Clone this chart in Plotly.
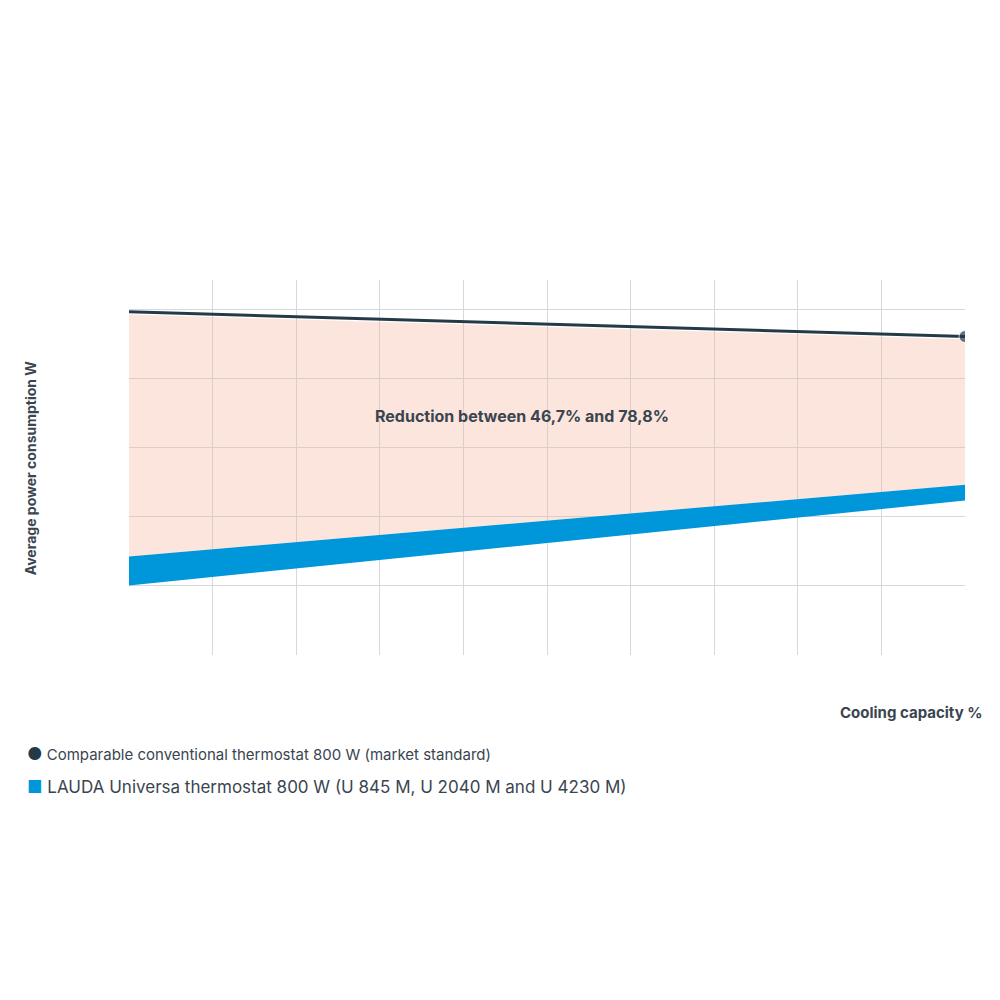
import plotly.graph_objects as go

cooling = [0, 100]
conventional = [4.97, 4.61]
lauda_upper = [1.42, 2.46]
lauda_lower = [1.0, 2.23]
label = "Reduction between 46,7% and 78,8%"
legend_labels = ["Comparable conventional thermostat 800 W (market standard)",
                 "LAUDA Universa thermostat 800 W (U 845 M, U 2040 M and U 4230 M)"]

dark = "#243b47"
blue = "#0096da"
pink = "rgba(247,180,155,0.35)"
txt = "#3a4550"

fig = go.Figure()
fig.add_trace(go.Scatter(x=cooling, y=lauda_upper, mode="lines", line=dict(width=0, color=pink),
                         showlegend=False, hoverinfo="skip"))
fig.add_trace(go.Scatter(x=cooling, y=[c - 0.04 for c in conventional], mode="lines", fill="tonexty",
                         fillcolor=pink, line=dict(width=0), showlegend=False, hoverinfo="skip"))
fig.add_trace(go.Scatter(x=cooling, y=lauda_lower, mode="lines", line=dict(width=0, color=blue),
                         showlegend=False, hoverinfo="skip"))
fig.add_trace(go.Scatter(x=cooling, y=lauda_upper, mode="lines", fill="tonexty", fillcolor=blue,
                         line=dict(width=0, color=blue), showlegend=False))
fig.add_trace(go.Scatter(x=cooling, y=conventional, mode="lines+markers",
                         line=dict(color=dark, width=3),
                         marker=dict(size=[0, 12], color=dark, symbol="circle"), showlegend=False))

fig.add_annotation(x=47, y=3.45, text="<b>" + label + "</b>", showarrow=False,
                   font=dict(size=16, color=txt, family="Inter"))
fig.add_annotation(xref="paper", yref="paper", x=-0.13, y=0.5, text="<b>Average power consumption W</b>",
                   textangle=-90, showarrow=False, font=dict(size=14, color=txt, family="Inter"))
fig.add_annotation(xref="paper", yref="paper", x=1.024, y=-0.185, xanchor="right",
                   text="<b>Cooling capacity %</b>", showarrow=False,
                   font=dict(size=15, color=txt, family="Inter"))
# legend
fig.add_annotation(xref="paper", yref="paper", x=-0.125, y=-0.264, xanchor="left", yanchor="middle",
                   text="<span style='color:%s;font-size:17px'>●</span> %s" % (dark, legend_labels[0]),
                   showarrow=False, font=dict(size=15, color=txt, family="Inter"))
fig.add_annotation(xref="paper", yref="paper", x=-0.125, y=-0.352, xanchor="left", yanchor="middle",
                   text="<span style='color:%s;font-size:17px'>■</span> %s" % (blue, legend_labels[1]),
                   showarrow=False, font=dict(size=17, color=txt, family="Inter"))

grid = dict(showgrid=True, gridcolor="#d4d9df", gridwidth=1, zeroline=False,
            showticklabels=False, ticks="", showline=False, automargin=False)
fig.update_xaxes(range=[0, 100], dtick=10, **grid)
fig.update_yaxes(range=[-0.01, 5.43], dtick=1, **grid)

fig.update_layout(
    width=1000, height=1000,
    margin=dict(l=121, r=43, t=272, b=353, autoexpand=False),
    paper_bgcolor="white", plot_bgcolor="white",
    font=dict(family="Inter", color=txt),
    showlegend=False,
)
fig.write_html("out.html")
